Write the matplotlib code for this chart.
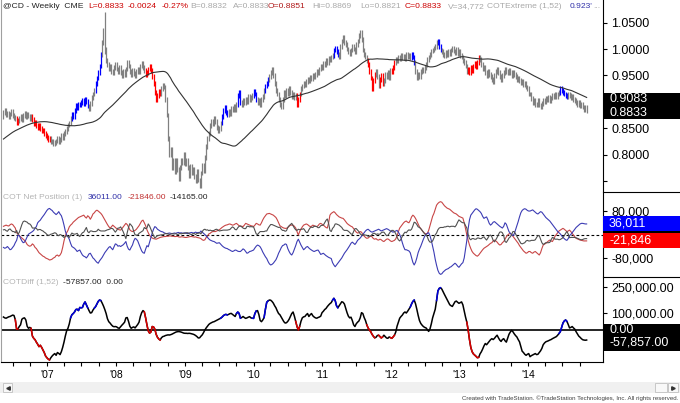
import numpy as np
import pandas as pd
import matplotlib.pyplot as plt
import matplotlib.dates as mdates
from matplotlib.patches import Rectangle
from matplotlib.lines import Line2D
from matplotlib.ticker import FuncFormatter, FixedLocator

plt.rcParams["font.family"] = ["Liberation Sans", "DejaVu Sans"]

# @CD weekly closes, first bar 2006-05-12, last bar 2014-11-14
close = [
    0.880, 0.884, 0.876, 0.879, 0.872, 0.877, 0.881, 0.874, 0.870, 0.868,
    0.860, 0.864, 0.868, 0.872, 0.866, 0.874, 0.878, 0.871, 0.876, 0.873,
    0.869, 0.872, 0.866, 0.858, 0.861, 0.855, 0.852, 0.856, 0.849, 0.846,
    0.845, 0.840, 0.836, 0.833, 0.828, 0.831, 0.824, 0.826, 0.820, 0.823,
    0.826, 0.830, 0.825, 0.829, 0.836, 0.833, 0.840, 0.844, 0.850, 0.856,
    0.860, 0.868, 0.876, 0.872, 0.884, 0.893, 0.889, 0.896, 0.894, 0.899,
    0.903, 0.897, 0.905, 0.900, 0.892, 0.888, 0.897, 0.908, 0.915, 0.922,
    0.935, 0.945, 0.955, 0.968, 0.990, 1.012, 1.035, 1.000, 0.978, 0.970,
    0.962, 0.968, 0.958, 0.955, 0.965, 0.970, 0.962, 0.958, 0.966, 0.955,
    0.950, 0.958, 0.952, 0.962, 0.975, 0.968, 0.958, 0.952, 0.960, 0.954,
    0.950, 0.957, 0.962, 0.958, 0.968, 0.972, 0.965, 0.960, 0.952, 0.955,
    0.962, 0.968, 0.960, 0.948, 0.935, 0.918, 0.905, 0.912, 0.920, 0.915,
    0.925, 0.932, 0.928, 0.905, 0.875, 0.830, 0.800, 0.810, 0.775, 0.790,
    0.768, 0.790, 0.772, 0.755, 0.775, 0.790, 0.785, 0.800, 0.782, 0.790,
    0.775, 0.760, 0.778, 0.765, 0.772, 0.758, 0.750, 0.768, 0.752, 0.742,
    0.765, 0.780, 0.770, 0.795, 0.815, 0.830, 0.840, 0.855, 0.862, 0.858,
    0.868, 0.862, 0.852, 0.845, 0.850, 0.860, 0.872, 0.884, 0.890, 0.880,
    0.876, 0.882, 0.878, 0.888, 0.885, 0.892, 0.886, 0.895, 0.912, 0.918,
    0.898, 0.895, 0.902, 0.898, 0.905, 0.900, 0.910, 0.905, 0.908, 0.912,
    0.920, 0.915, 0.905, 0.898, 0.902, 0.895, 0.905, 0.910, 0.922, 0.930,
    0.935, 0.942, 0.948, 0.955, 0.962, 0.950, 0.935, 0.922, 0.915, 0.905,
    0.895, 0.890, 0.905, 0.918, 0.912, 0.922, 0.915, 0.925, 0.918, 0.910,
    0.915, 0.908, 0.912, 0.895, 0.905, 0.915, 0.925, 0.930, 0.935, 0.932,
    0.938, 0.942, 0.940, 0.946, 0.944, 0.950, 0.948, 0.952, 0.958, 0.955,
    0.962, 0.968, 0.965, 0.972, 0.970, 0.978, 0.975, 0.982, 0.980, 0.985,
    0.988, 0.998, 1.002, 0.995, 0.990, 0.985, 1.005, 1.015, 1.022, 1.012,
    1.008, 1.000, 0.995, 0.992, 0.998, 1.005, 1.000, 0.995, 1.008, 1.015,
    1.025, 1.032, 1.018, 0.998, 0.990, 0.985, 0.978, 0.970, 0.958, 0.945,
    0.925, 0.940, 0.952, 0.958, 0.948, 0.930, 0.942, 0.950, 0.935, 0.940,
    0.952, 0.948, 0.955, 0.945, 0.960, 0.958, 0.965, 0.975, 0.980, 0.978,
    0.985, 0.982, 0.988, 0.984, 0.986, 0.982, 0.990, 0.985, 0.988, 0.984,
    0.990, 0.985, 0.975, 0.958, 0.945, 0.952, 0.948, 0.958, 0.962, 0.960,
    0.965, 0.970, 0.980, 0.985, 0.990, 0.996, 0.998, 1.002, 1.005, 1.012,
    1.015, 1.005, 0.998, 0.995, 0.990, 0.988, 0.994, 0.990, 0.996, 0.992,
    0.998, 1.002, 0.996, 0.994, 1.000, 0.992, 0.996, 0.988, 0.985, 0.978,
    0.975, 0.968, 0.958, 0.962, 0.956, 0.965, 0.960, 0.968, 0.972, 0.966,
    0.975, 0.985, 0.980, 0.970, 0.962, 0.965, 0.955, 0.950, 0.958, 0.952,
    0.948, 0.942, 0.938, 0.950, 0.958, 0.962, 0.955, 0.948, 0.942, 0.950,
    0.955, 0.962, 0.958, 0.955, 0.960, 0.955, 0.950, 0.955, 0.952, 0.948,
    0.942, 0.945, 0.940, 0.936, 0.938, 0.932, 0.935, 0.928, 0.925, 0.915,
    0.915, 0.906, 0.899, 0.902, 0.894, 0.895, 0.902, 0.894, 0.890, 0.897,
    0.902, 0.900, 0.906, 0.904, 0.908, 0.902, 0.907, 0.912, 0.910, 0.914,
    0.910, 0.915, 0.918, 0.925, 0.922, 0.918, 0.915, 0.912, 0.910, 0.915,
    0.912, 0.908, 0.910, 0.905, 0.902, 0.898, 0.895, 0.898, 0.892, 0.895,
    0.890, 0.886, 0.889, 0.8833,
]

# 51 weeks before the first bar, only needed for the 52 week average
close_prior = [
    0.778, 0.783, 0.781, 0.777, 0.785, 0.788, 0.783, 0.791, 0.795, 0.799,
    0.803, 0.801, 0.808, 0.805, 0.811, 0.815, 0.813, 0.819, 0.823, 0.821,
    0.825, 0.828, 0.823, 0.831, 0.835, 0.829, 0.833, 0.838, 0.841, 0.836,
    0.839, 0.843, 0.841, 0.845, 0.848, 0.843, 0.849, 0.853, 0.851, 0.855,
    0.851, 0.858, 0.861, 0.855, 0.859, 0.863, 0.867, 0.861, 0.869, 0.873,
    0.871,
]

# bars whose range is far wider than the weekly move: week -> (high, low)
spike_bars = {77: (1.070, 0.990)}

# COT net positions, thousands of contracts (blue line)
large_specs = [
    -44, -47, -45, -41, -46, -52, -50, -44, -38, -28,
    -20, -3, -3, -13, -22, -28, -26, -18, -8, 1,
    4, 7, 10, 14, 22, 27, 40, 45, 49, 56,
    62, 68, 75, 82, 87, 89, 85, 82, 76, 72,
    68, 72, 78, 70, 64, 50, 32, 12, -2, -8,
    -16, -30, -41, -44, -47, -52, -58, -55, -53, -62,
    -70, -74, -76, -80, -74, -66, -64, -72, -80, -84,
    -90, -95, -98, -90, -84, -78, -70, -62, -56, -50,
    -44, -41, -47, -52, -42, -32, -34, -40, -38, -41,
    -38, -35, -30, -24, -40, -50, -53, -44, -36, -22,
    -13, -16, -22, -34, -45, -56, -62, -64, -50, -38,
    -42, -26, -10, 5, 18, 27, 24, 18, 15, 12,
    10, 9, 6, 4, 3, 4, 5, 4, 3, 4,
    5, 4, 6, 7, 5, 6, 4, 5, 6, 4,
    3, 5, 6, 7, 5, 6, 8, 6, 7, 6,
    12, 8, 4, 0, -5, -10, -15, -19, -21, -23,
    -24, -27, -30, -29, -28, -33, -38, -42, -45, -47,
    -48, -51, -53, -56, -58, -56, -53, -54, -57, -58,
    -58, -54, -49, -52, -58, -64, -62, -58, -57, -55,
    -53, -46, -40, -36, -38, -42, -50, -60, -68, -76,
    -82, -92, -100, -104, -102, -98, -92, -86, -76, -64,
    -55, -45, -38, -36, -32, -34, -48, -58, -66, -70,
    -62, -50, -38, -24, -16, -26, -36, -44, -52, -48,
    -43, -41, -46, -50, -53, -56, -58, -56, -54, -53,
    -60, -68, -66, -64, -68, -72, -75, -78, -80, -82,
    -96, -104, -110, -104, -98, -92, -86, -80, -72, -64,
    -58, -52, -45, -38, -30, -26, -30, -34, -28, -20,
    -16, -12, -6, 0, 6, 12, 16, 18, 14, 10,
    8, 10, 12, 14, 16, 18, 15, 12, 14, 16,
    18, 20, 18, 15, 12, 10, 8, 10, 12, 14,
    8, 0, -12, -28, -42, -52, -52, -54, -56, -62,
    -78, -95, -104, -95, -80, -62, -50, -40, -28, -16,
    -6, 0, 4, 6, -4, -20, -40, -60, -85, -105,
    -122, -132, -136, -134, -128, -124, -120, -118, -116, -112,
    -110, -106, -102, -98, -102, -108, -112, -106, -100, -96,
    -80, -50, -20, 20, 50, 66, 72, 78, 84, 88,
    86, 82, 78, 72, 62, 55, 58, 60, 50, 38,
    32, 36, 42, 44, 40, 36, 32, 28, 25, 22,
    28, 40, 35, 22, 10, 4, 0, -4, 2, 16,
    30, 44, 60, 74, 82, 86, 88, 86, 82, 80,
    80, 82, 84, 80, 76, 72, 70, 74, 78, 76,
    70, 64, 58, 54, 50, 46, 40, 34, 28, 22,
    16, 10, 6, 2, -4, -10, -14, -18, -20, -14,
    -4, 0, 6, 12, 18, 24, 28, 32, 36, 38,
    38, 37, 36, 36.011,
]

# red line
commercials = [
    28, 30, 32, 30, 29, 33, 36, 34, 28, 22,
    6, 2, -4, -8, -12, -16, -20, -26, -34, -38,
    -40, -38, -32, -36, -44, -48, -55, -62, -66, -70,
    -74, -76, -80, -82, -84, -87, -86, -84, -80, -78,
    -72, -70, -74, -70, -62, -44, -22, -5, 6, 14,
    26, 32, 36, 42, 46, 50, 54, 58, 60, 62,
    64, 66, 60, 56, 64, 60, 52, 60, 70, 74,
    80, 83, 80, 76, 72, 66, 58, 50, 42, 34,
    27, 22, 26, 32, 28, 24, 20, 18, 16, 15,
    20, 26, 32, 38, 34, 26, 16, 12, 10, 12,
    14, 18, 24, 30, 38, 46, 49, 40, 30, 16,
    6, -3, -8, -12, -14, -15, -16, -14, -12, -10,
    -9, -8, -7, -7, -6, -6, -5, -5, -6, -6,
    -7, -7, -6, -8, -9, -8, -8, -9, -10, -10,
    -9, -8, -7, -7, -8, -9, -8, -10, -11, -12,
    -14, -18, -20, -18, -10, -6, 2, 4, 8, 10,
    10, 10, 12, 14, 16, 20, 24, 27, 30, 32,
    33, 35, 36, 34, 32, 33, 36, 38, 34, 30,
    29, 28, 27, 32, 38, 36, 34, 32, 30, 29,
    27, 32, 38, 36, 33, 32, 40, 50, 58, 64,
    70, 71, 72, 70, 68, 66, 62, 58, 50, 40,
    30, 27, 24, 22, 21, 21, 24, 28, 32, 32,
    32, 28, 22, 10, -2, 10, 18, 26, 32, 34,
    36, 34, 30, 27, 28, 32, 30, 28, 27, 30,
    36, 38, 35, 32, 28, 24, 22, 40, 66, 72,
    75, 78, 74, 68, 64, 60, 58, 56, 55, 50,
    44, 38, 34, 31, 28, 26, 20, 14, 8, 5,
    6, 10, 8, 0, -5, -10, -13, -12, -8, -5,
    -8, -14, -16, -14, -18, -19, -16, -18, -22, -24,
    -20, -16, -15, -18, -22, -24, -22, -20, -15, -5,
    10, 22, 28, 34, 40, 44, 46, 42, 40, 48,
    60, 66, 62, 55, 46, 36, 26, 20, 14, 8,
    4, 2, 4, 14, 30, 46, 62, 72, 86, 100,
    106, 110, 112, 110, 104, 98, 94, 90, 88, 86,
    82, 78, 74, 72, 70, 66, 62, 60, 58, 56,
    40, 20, -2, -20, -36, -48, -58, -64, -68, -72,
    -74, -70, -64, -58, -52, -47, -44, -41, -38, -34,
    -30, -28, -22, -19, -22, -26, -32, -36, -34, -28,
    -24, -16, -8, -2, 2, 4, 0, -6, -12, -18,
    -24, -30, -38, -44, -50, -56, -60, -64, -62, -58,
    -58, -62, -64, -60, -58, -62, -66, -70, -62, -48,
    -36, -33, -30, -26, -22, -19, -22, -24, -16, -6,
    0, 6, 12, 15, 18, 21, 18, 14, 10, 12,
    15, 10, 4, -2, -8, -13, -15, -17, -19, -20,
    -21, -22, -22, -21.846,
]

# COTDiff (1,52), thousands
cot_diff = [
    75, 70, 68, 72, 76, 78, 82, 86, 84, 60,
    5, 6, 20, 30, 62, 68, 70, 58, 22, 10,
    15, 10, -35, -48, -56, -70, -82, -96, -88, -100,
    -115, -130, -150, -160, -168, -173, -160, -150, -142, -136,
    -146, -130, -135, -142, -125, -100, -70, -35, -5, 10,
    35, 70, 88, 95, 104, 118, 120, 112, 130, 128,
    130, 150, 162, 145, 128, 112, 98, 100, 115, 126,
    135, 150, 165, 173, 170, 155, 138, 118, 95, 65,
    48, 40, 30, 22, 19, 20, 18, 12, 10, 19,
    28, 36, 45, 70, 72, 50, 22, 10, 15, 18,
    12, 22, 32, 45, 78, 100, 112, 105, 70, 30,
    -5, -18, -12, 20, 18, 5, -25, -42, -52, -58,
    -45, -38, -36, -32, -30, -28, -29, -27, -24, -20,
    -16, -12, -10, -9, -10, -12, -15, -18, -19, -19,
    -20, -19, -20, -22, -24, -27, -32, -38, -46, -45,
    -36, -28, -15, 0, 12, 22, 32, 38, 42, 46,
    48, 52, 56, 60, 64, 68, 74, 82, 88, 90,
    87, 90, 94, 96, 90, 84, 78, 95, 104, 96,
    68, 72, 78, 72, 67, 70, 74, 77, 70, 68,
    67, 95, 110, 112, 90, 55, 48, 58, 72, 120,
    160, 168, 173, 172, 165, 155, 140, 128, 110, 95,
    88, 75, 62, 48, 40, 42, 50, 62, 78, 95,
    104, 80, 50, 20, 0, 20, 50, 70, 76, 78,
    88, 95, 78, 88, 95, 82, 75, 70, 68, 72,
    75, 80, 100, 108, 118, 124, 135, 144, 152, 158,
    172, 183, 170, 140, 128, 140, 152, 163, 160, 150,
    125, 100, 80, 70, 74, 55, 30, 20, 36, 45,
    52, 70, 100, 95, 72, 55, 30, 12, 0, -10,
    -25, -36, -45, -42, -32, -30, -38, -46, -40, -30,
    -38, -46, -48, -40, -44, -48, -40, -30, -12, 22,
    45, 68, 78, 86, 98, 104, 98, 108, 120, 132,
    150, 165, 173, 152, 120, 85, 55, 38, 28, 20,
    15, 12, 2, -8, 6, 35, 70, 95, 120, 170,
    225, 240, 244, 236, 220, 205, 190, 175, 160, 146,
    140, 136, 150, 163, 167, 160, 154, 158, 162, 145,
    110, 75, 45, 0, -55, -100, -125, -138, -145, -152,
    -160, -158, -138, -126, -110, -92, -78, -85, -75, -65,
    -56, -50, -55, -48, -38, -30, -45, -58, -66, -55,
    -50, -62, -70, -48, -25, -12, -2, -10, -22, -32,
    -40, -55, -68, -95, -122, -130, -140, -146, -140, -136,
    -154, -148, -144, -140, -136, -142, -140, -130, -120, -106,
    -85, -75, -68, -65, -62, -58, -55, -50, -46, -42,
    -38, -30, -20, -10, 15, 40, 52, 58, 50, 32,
    12, 15, 20, 12, 5, -10, -22, -35, -42, -50,
    -56, -58, -59, -57.857,
]

# COTExtreme signals, inclusive week index ranges
extreme_high_runs = [(52, 64), (70, 74), (166, 170), (178, 180), (190, 192),
                     (199, 201), (251, 254), (310, 312), (330, 332), (423, 428)]
extreme_low_runs = [(10, 11), (22, 35), (108, 119), (223, 225), (277, 282),
                    (286, 288), (295, 297), (353, 361)]

header = [
    ("@CD - Weekly  CME", 3, "#222222"),
    ("L=0.8833", 88, "#cc0000"),
    ("-0.0024", 128, "#cc0000"),
    ("-0.27%", 162, "#cc0000"),
    ("B=0.8832", 190, "#a8a8a8"),
    ("A=0.8833", 233, "#a8a8a8"),
    ("O=0.8851", 268, "#b01818"),
    ("Hi=0.8869", 312, "#a8a8a8"),
    ("Lo=0.8821", 360, "#a8a8a8"),
    ("C=0.8833", 405, "#cc0000"),
    ("V=34,772", 448, "#a8a8a8"),
    ("COTExtreme (1,52)", 487, "#a8a8a8"),
    ("0.923'", 570, "#3030a8"),
    ("...", 593, "#a8a8a8"),
]

W, H = 680, 403
BLUE, RED = "#3c3cb4", "#c84646"

weeks = pd.date_range("2006-05-12", periods=len(close), freq="W-FRI")
x = mdates.date2num(weeks.to_pydatetime())
cl = np.array(close)
op = np.r_[close_prior[-1], cl[:-1]]
wick = 0.0045
hi = np.maximum(op, cl) + wick
lo = np.minimum(op, cl) - wick
for i, (h, l) in spike_bars.items():
    hi[i], lo[i] = h, l
ma = pd.Series(close_prior + close).rolling(52).mean().to_numpy()[len(close_prior):]

spec = np.array(large_specs) * 1000
comm = np.array(commercials) * 1000
small = -(spec + comm)
diff = np.array(cot_diff) * 1000

bar_colors = np.full(len(close), "#808080", dtype=object)
for a, b in extreme_high_runs:
    bar_colors[a:b + 1] = "#0000ff"
for a, b in extreme_low_runs:
    bar_colors[a:b + 1] = "#ff0000"

fig = plt.figure(figsize=(W / 100, H / 100), dpi=100)


def panel(top, bottom):
    ax = fig.add_axes([1 / W, 1 - bottom / H, 602 / W, (bottom - top) / H])
    ax.set_xlim(mdates.date2num(pd.Timestamp("2006-04-29")),
                mdates.date2num(pd.Timestamp("2015-02-02")))
    for side in ("top", "bottom"):
        ax.spines[side].set_visible(False)
    ax.spines["left"].set_color("#a0a0a0")
    ax.spines["left"].set_linewidth(0.8)
    ax.spines["right"].set_linewidth(0.8)
    ax.yaxis.tick_right()
    ax.tick_params(axis="y", direction="out", length=3, width=0.8, pad=3, labelsize=9)
    ax.tick_params(axis="x", which="both", bottom=False, labelbottom=False)
    return ax


def value_box(ax, value, text, face, height_px, dy_px=0):
    y0, y1 = ax.get_ylim()
    per_px = (y1 - y0) / (ax.get_position().height * H)
    yc = value - dy_px * per_px
    h = height_px * per_px
    tr = ax.get_yaxis_transform()
    ax.add_patch(Rectangle((1.0, yc - h / 2), 77 / 602, h, transform=tr,
                           facecolor=face, edgecolor="none", clip_on=False, zorder=5))
    if text:
        ax.text(1.0 + 6 / 602, yc, text, transform=tr, color="white", fontsize=9,
                va="center", ha="left", clip_on=False, zorder=6)


def hide_under_box(fmt, hidden):
    return FuncFormatter(lambda v, p: "" if any(abs(v - h) < 1e-9 for h in hidden) else fmt(v))


def fig_text(px, py, s, color, size=6.1, ha="left"):
    fig.text(px / W, 1 - py / H, s, color=color, fontsize=size, va="center", ha=ha)


# price panel
ax_p = panel(0, 192)
ax_p.vlines(x, lo, hi, colors=list(bar_colors), lw=0.9)
ax_p.plot(x, ma, color="#333333", lw=0.8)
ax_p.set_ylim(0.7292, 1.0928)
ax_p.set_yticks([0.75, 0.80, 0.85, 0.90, 0.95, 1.00, 1.05])
ax_p.yaxis.set_major_formatter(hide_under_box(lambda v: f"{v:.4f}", [0.75, 0.90]))
value_box(ax_p, ma[-1], f"{ma[-1]:.4f}", "black", 13, dy_px=2)
value_box(ax_p, cl[-1], f"{cl[-1]:.4f}", "black", 13, dy_px=2)

# COT net position panel
ax_c = panel(192, 277)
ax_c.axhline(0, color="black", lw=0.8, ls=(0, (2.5, 2)))
ax_c.plot(x, comm, color=RED, lw=0.8)
ax_c.plot(x, spec, color=BLUE, lw=0.8)
ax_c.plot(x, small, color="#505050", lw=0.8)
ax_c.set_ylim(-145000, 145000)
ax_c.set_yticks([-80000, 0, 80000])
ax_c.yaxis.set_major_formatter(hide_under_box(lambda v: f"{v:,.0f}", [0]))
value_box(ax_c, small[-1], "", "black", 15)
value_box(ax_c, spec[-1], f"{spec[-1]:,.0f}", "#0000ff", 15)
value_box(ax_c, comm[-1], f"{comm[-1]:,.0f}", "#ff0000", 15)

# COTDiff panel
ax_d = panel(277, 362)
ax_d.axhline(0, color="black", lw=1.2)
ax_d.plot(x, diff, color="black", lw=1.1)
for runs, col in ((extreme_high_runs, "#0000dd"), (extreme_low_runs, "#dd0000")):
    for a, b in runs:
        ax_d.plot(x[max(a - 1, 0):b + 1], diff[max(a - 1, 0):b + 1], color=col, lw=1.1)
ax_d.set_ylim(-184600, 305800)
ax_d.set_yticks([0, 100000, 250000])
ax_d.yaxis.set_major_formatter(hide_under_box(lambda v: f"{v:,.2f}", [0]))
ax_d.spines["bottom"].set_visible(True)
ax_d.spines["bottom"].set_linewidth(0.8)
years = pd.date_range("2007-01-01", weeks[-1], freq="YS")
quarters = pd.date_range("2006-07-01", weeks[-1], freq="QS")
ax_d.xaxis.set_major_locator(FixedLocator(mdates.date2num(years.to_pydatetime())))
ax_d.xaxis.set_minor_locator(FixedLocator(mdates.date2num(quarters.to_pydatetime())))
ax_d.xaxis.set_major_formatter(mdates.DateFormatter("'%y"))
ax_d.tick_params(axis="x", which="both", bottom=True, labelbottom=True, direction="out",
                 length=3, width=0.8, labelsize=7.5, pad=3)
value_box(ax_d, 0, "0.00", "black", 12)
value_box(ax_d, diff[-1], f"{diff[-1]:,.2f}", "black", 18, dy_px=2)

# panel titles
for s, px, col in header:
    fig_text(px, 7, s, col)
fig_text(3, 197, "COT Net Position (1)", "#b4b4b4")
fig_text(88, 197, f"{spec[-1]:.2f}", "#3030a8")
fig_text(128, 197, f"{comm[-1]:.2f}", "#c03030")
fig_text(170, 197, f"{small[-1]:.2f}", "#222222")
fig_text(3, 283, "COTDiff (1,52)", "#b4b4b4")
fig_text(63, 283, f"{diff[-1]:.2f}  0.00", "#222222")

# separators in the scale area
for py in (192, 277):
    fig.add_artist(Line2D([603 / W, 1], [1 - py / H] * 2, color="black", lw=0.8,
                          transform=fig.transFigure))

# scroll bar
fig.add_artist(Rectangle((0, 1 - 393 / H), 1, 11 / H, transform=fig.transFigure,
                         facecolor="#f0f0f0", edgecolor="none"))
for bx0, bx1 in ((3, 12), (655, 667), (668, 678)):
    fig.add_artist(Rectangle((bx0 / W, 1 - 392 / H), (bx1 - bx0) / W, 9 / H,
                             transform=fig.transFigure, facecolor="#f8f8f8",
                             edgecolor="#c0c0c0", lw=0.6))
for bx, mk in ((7.5, "<"), (673, ">")):
    fig.add_artist(Line2D([bx / W], [1 - 387.5 / H], marker=mk, ms=2.5, color="#333333",
                          transform=fig.transFigure))

fig_text(678, 398.5, "Created with TradeStation. \u00a9TradeStation Technologies, Inc. "
         "All rights reserved.", "#404040", size=4.4, ha="right")

fig.savefig("out.png", dpi=100)
